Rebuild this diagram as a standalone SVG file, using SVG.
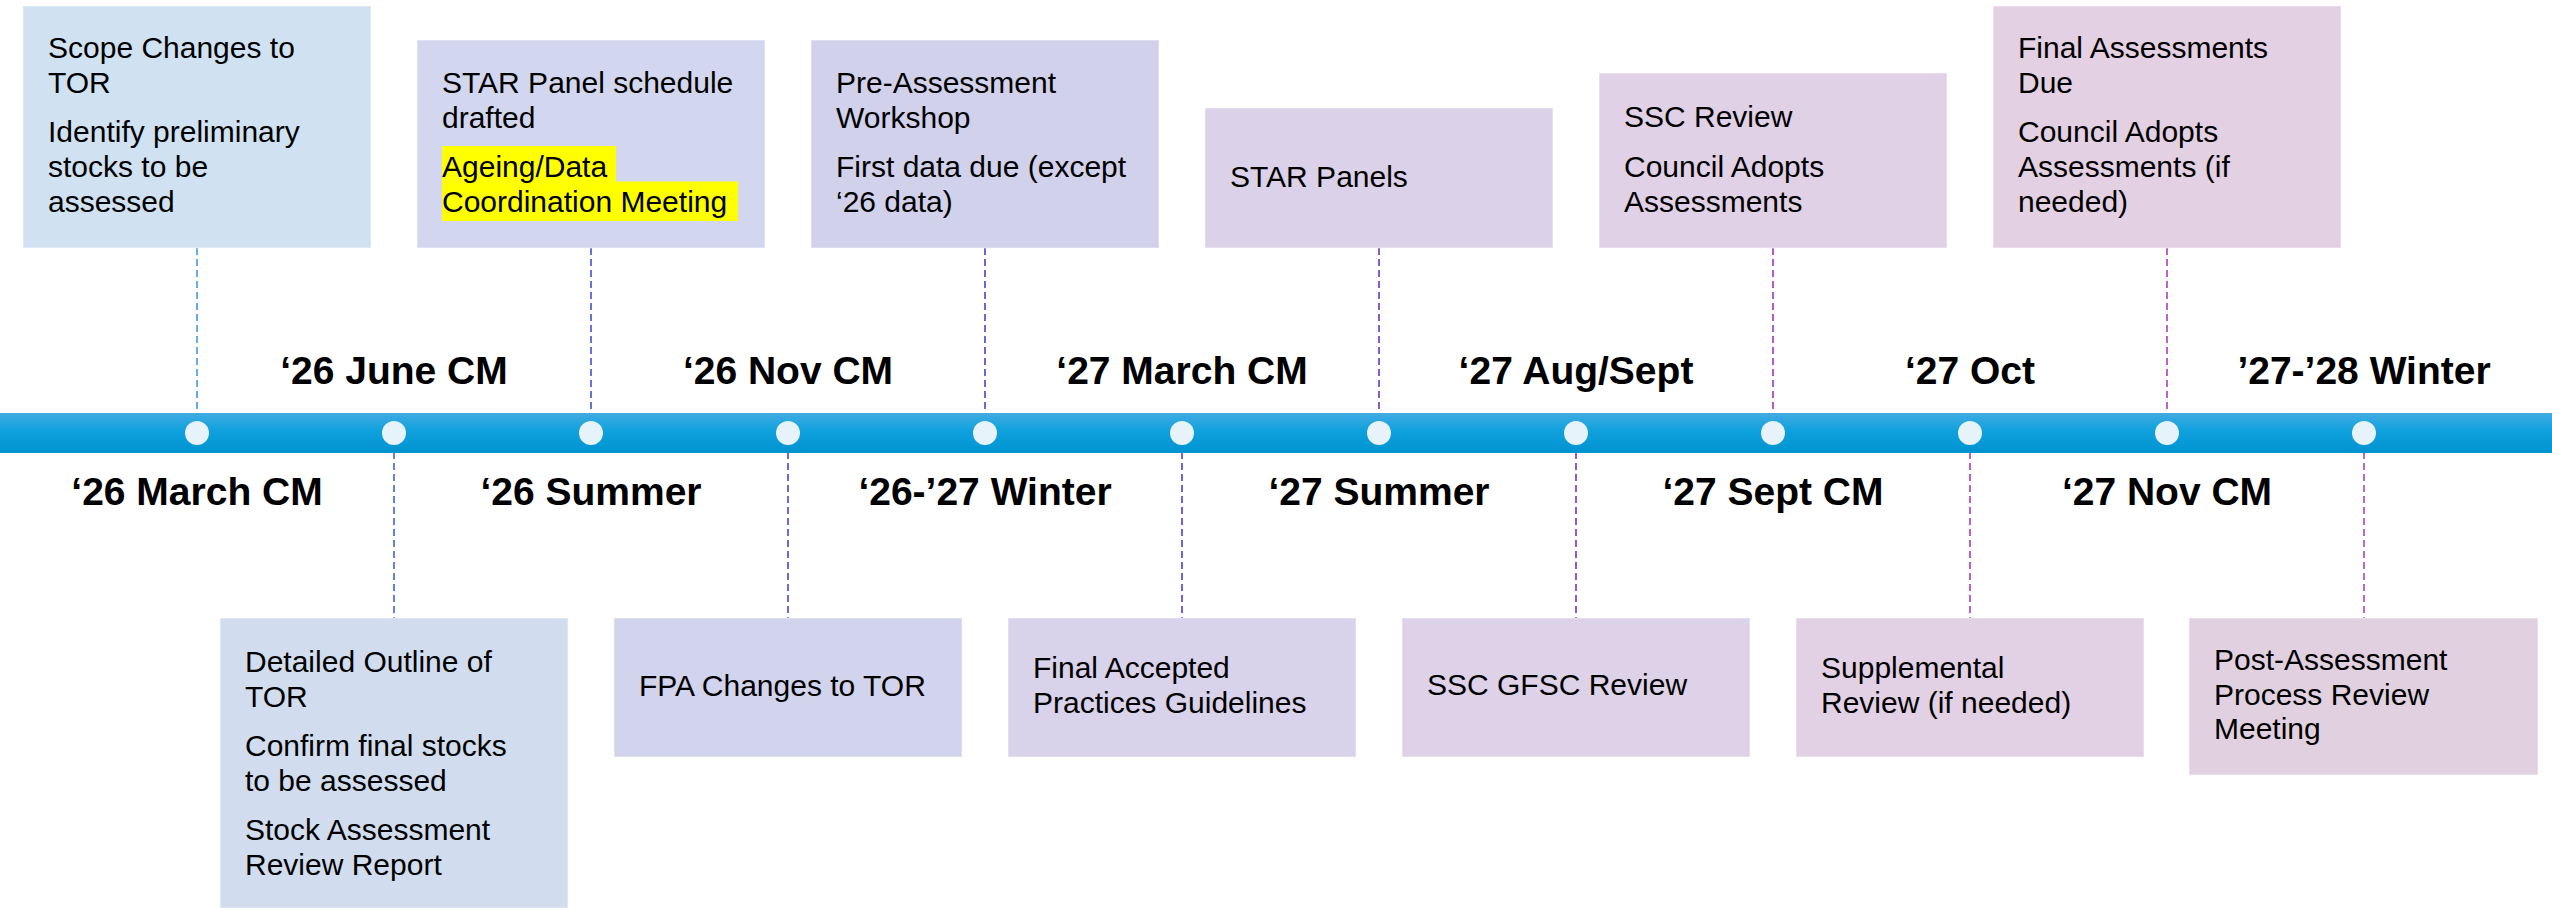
<svg xmlns="http://www.w3.org/2000/svg" width="2552" height="908" viewBox="0 0 2552 908">
<defs>
<linearGradient id="barGrad" x1="0" y1="0" x2="0" y2="1">
<stop offset="0" stop-color="#42ABE1"/>
<stop offset="0.45" stop-color="#0EA1DD"/>
<stop offset="1" stop-color="#0093D0"/>
</linearGradient>
<style>
.box{stroke:#ffffff;stroke-opacity:0.35;stroke-width:1.5}
.t{font-family:"Liberation Sans",Arial,sans-serif;font-size:30px;fill:#000}
.lbl{font-family:"Liberation Sans",Arial,sans-serif;font-size:39px;font-weight:bold;fill:#000;text-anchor:middle}
.con{fill:none;stroke-width:1.8;stroke-dasharray:7 4}
.dot{fill:#E6F3FB}
.hl{fill:#FFFF00}
</style>
</defs>
<rect width="2552" height="908" fill="#ffffff"/>

<g id="connectors">
<line class="con" x1="197" y1="248" x2="197" y2="413" stroke="#5AA5DA"/>
<line class="con" x1="394" y1="452" x2="394" y2="618" stroke="#5474DA"/>
<line class="con" x1="591" y1="248" x2="591" y2="413" stroke="#5366D8"/>
<line class="con" x1="788" y1="452" x2="788" y2="618" stroke="#5A5AD5"/>
<line class="con" x1="985" y1="248" x2="985" y2="413" stroke="#5F55D3"/>
<line class="con" x1="1182" y1="452" x2="1182" y2="618" stroke="#6A50D0"/>
<line class="con" x1="1379" y1="248" x2="1379" y2="413" stroke="#7A4BCF"/>
<line class="con" x1="1576" y1="452" x2="1576" y2="618" stroke="#8C44C4"/>
<line class="con" x1="1773" y1="248" x2="1773" y2="413" stroke="#A44FC0"/>
<line class="con" x1="1970" y1="452" x2="1970" y2="618" stroke="#B052C4"/>
<line class="con" x1="2167" y1="248" x2="2167" y2="413" stroke="#B354C2"/>
<line class="con" x1="2364" y1="452" x2="2364" y2="618" stroke="#B45AC4"/>
</g>

<g id="timeline">
<rect x="0" y="413" width="2552" height="40" fill="url(#barGrad)"/>
<circle class="dot" cx="197" cy="433" r="12"/>
<circle class="dot" cx="394" cy="433" r="12"/>
<circle class="dot" cx="591" cy="433" r="12"/>
<circle class="dot" cx="788" cy="433" r="12"/>
<circle class="dot" cx="985" cy="433" r="12"/>
<circle class="dot" cx="1182" cy="433" r="12"/>
<circle class="dot" cx="1379" cy="433" r="12"/>
<circle class="dot" cx="1576" cy="433" r="12"/>
<circle class="dot" cx="1773" cy="433" r="12"/>
<circle class="dot" cx="1970" cy="433" r="12"/>
<circle class="dot" cx="2167" cy="433" r="12"/>
<circle class="dot" cx="2364" cy="433" r="12"/>
</g>

<g id="labels">
<text class="lbl" x="197" y="505">‘26 March CM</text>
<text class="lbl" x="394" y="384">‘26 June CM</text>
<text class="lbl" x="591" y="505">‘26 Summer</text>
<text class="lbl" x="788" y="384">‘26 Nov CM</text>
<text class="lbl" x="985" y="505">‘26-’27 Winter</text>
<text class="lbl" x="1182" y="384">‘27 March CM</text>
<text class="lbl" x="1379" y="505">‘27 Summer</text>
<text class="lbl" x="1576" y="384">‘27 Aug/Sept</text>
<text class="lbl" x="1773" y="505">‘27 Sept CM</text>
<text class="lbl" x="1970" y="384">‘27 Oct</text>
<text class="lbl" x="2167" y="505">‘27 Nov CM</text>
<text class="lbl" x="2364" y="384">’27-’28 Winter</text>
</g>

<g id="node-scope">
<rect class="box" x="23" y="6" width="348" height="242" fill="#D0E2F1"/>
<text class="t" x="48" y="58">Scope Changes to</text>
<text class="t" x="48" y="93">TOR</text>
<text class="t" x="48" y="142">Identify preliminary</text>
<text class="t" x="48" y="177">stocks to be</text>
<text class="t" x="48" y="212">assessed</text>
</g>

<g id="node-star-schedule">
<rect class="box" x="417" y="40" width="348" height="208" fill="#D3D6EF"/>
<rect class="hl" x="442" y="146" width="174" height="36"/>
<rect class="hl" x="442" y="181.5" width="296" height="39.5"/>
<text class="t" x="442" y="93">STAR Panel schedule</text>
<text class="t" x="442" y="128">drafted</text>
<text class="t" x="442" y="176.5">Ageing/Data</text>
<text class="t" x="442" y="211.5">Coordination Meeting</text>
</g>

<g id="node-pre-assessment">
<rect class="box" x="811" y="40" width="348" height="208" fill="#D2D1EC"/>
<text class="t" x="836" y="93">Pre-Assessment</text>
<text class="t" x="836" y="128">Workshop</text>
<text class="t" x="836" y="176.5">First data due (except</text>
<text class="t" x="836" y="211.5">‘26 data)</text>
</g>

<g id="node-star-panels">
<rect class="box" x="1205" y="108" width="348" height="140" fill="#DBD1E8"/>
<text class="t" x="1230" y="187">STAR Panels</text>
</g>

<g id="node-ssc-review">
<rect class="box" x="1599" y="73" width="348" height="175" fill="#E0D1E6"/>
<text class="t" x="1624" y="127">SSC Review</text>
<text class="t" x="1624" y="177">Council Adopts</text>
<text class="t" x="1624" y="212">Assessments</text>
</g>

<g id="node-final-assessments">
<rect class="box" x="1993" y="6" width="348" height="242" fill="#E3D0E3"/>
<text class="t" x="2018" y="58">Final Assessments</text>
<text class="t" x="2018" y="93">Due</text>
<text class="t" x="2018" y="142">Council Adopts</text>
<text class="t" x="2018" y="177">Assessments (if</text>
<text class="t" x="2018" y="212">needed)</text>
</g>

<g id="node-detailed-outline">
<rect class="box" x="220" y="618" width="348" height="290" fill="#D1DDEF"/>
<text class="t" x="245" y="672">Detailed Outline of</text>
<text class="t" x="245" y="707">TOR</text>
<text class="t" x="245" y="756">Confirm final stocks</text>
<text class="t" x="245" y="791">to be assessed</text>
<text class="t" x="245" y="840">Stock Assessment</text>
<text class="t" x="245" y="875">Review Report</text>
</g>

<g id="node-fpa">
<rect class="box" x="614" y="618" width="348" height="139" fill="#D2D3ED"/>
<text class="t" x="639" y="696">FPA Changes to TOR</text>
</g>

<g id="node-final-accepted">
<rect class="box" x="1008" y="618" width="348" height="139" fill="#D8D2EB"/>
<text class="t" x="1033" y="678">Final Accepted</text>
<text class="t" x="1033" y="713">Practices Guidelines</text>
</g>

<g id="node-ssc-gfsc">
<rect class="box" x="1402" y="618" width="348" height="139" fill="#DDD2E7"/>
<text class="t" x="1427" y="695">SSC GFSC Review</text>
</g>

<g id="node-supplemental">
<rect class="box" x="1796" y="618" width="348" height="139" fill="#E2D1E5"/>
<text class="t" x="1821" y="678">Supplemental</text>
<text class="t" x="1821" y="713">Review (if needed)</text>
</g>

<g id="node-post-assessment">
<rect class="box" x="2189" y="618" width="349" height="157" fill="#E1D1E0"/>
<text class="t" x="2214" y="670">Post-Assessment</text>
<text class="t" x="2214" y="705">Process Review</text>
<text class="t" x="2214" y="739">Meeting</text>
</g>
</svg>
